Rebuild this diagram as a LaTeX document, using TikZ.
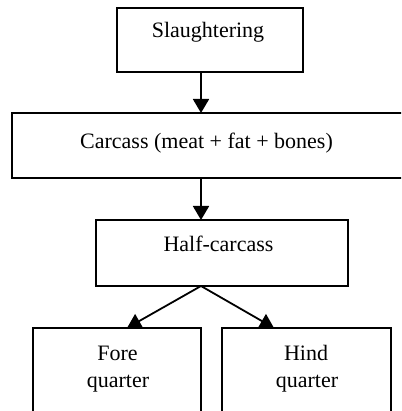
\documentclass[tikz,border=0pt]{standalone}
\usepackage{fontspec}
\setmainfont{Liberation Serif}
\usetikzlibrary{arrows.meta}
\begin{document}
\begin{tikzpicture}[x=1pt,y=-1pt,
  box/.style={draw, line width=1.6pt, inner sep=0pt},
  lbl/.style={inner sep=0pt, anchor=base, font=\fontsize{22}{26}\selectfont},
  arr/.style={line width=1.8pt, -{Triangle[width=16pt,length=14pt]}}]
\useasboundingbox (0,0) rectangle (401,411);
\clip (0,0) rectangle (401,411);
\fill[white] (0,0) rectangle (401,411);
% boxes
\node[box, minimum width=186pt, minimum height=64pt] (s) at (210,40) {};
\node[box, minimum width=408pt, minimum height=65pt] (c) at (216,145.5) {};
\node[box, minimum width=252pt, minimum height=66pt] (h) at (222,253) {};
\node[box, minimum width=168pt, minimum height=120pt] (f) at (117,388) {};
\node[box, minimum width=169pt, minimum height=120pt] (q) at (306.5,388) {};
% labels
\node[lbl] (sl) at (208,38) {Slaughtering};
\node[lbl] (cl) at (206.5,149) {Carcass (meat + fat + bones)};
\node[lbl] (hl) at (218.5,251) {Half-carcass};
\node[lbl] (fl1) at (117.5,360) {Fore};
\node[lbl] (fl2) at (118,387) {quarter};
\node[lbl] (ql1) at (306,360) {Hind};
\node[lbl] (ql2) at (307,387) {quarter};
% connectors
\coordinate (a1) at (201,72);
\coordinate (a2) at (201,113);
\coordinate (b1) at (201,178);
\coordinate (b2) at (201,220);
\coordinate (d0) at (201,286);
\coordinate (d1) at (127,328);
\coordinate (d2) at (274,328);
\draw[arr] (a1) -- (a2);
\draw[arr] (b1) -- (b2);
\draw[arr] (d0) -- (d1);
\draw[arr] (d0) -- (d2);
\end{tikzpicture}
\end{document}
